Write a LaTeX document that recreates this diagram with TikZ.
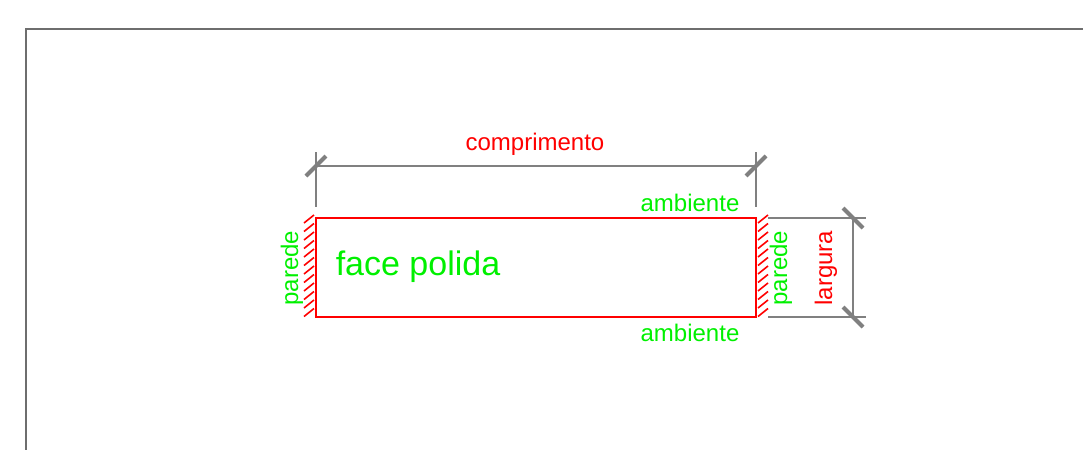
\documentclass[tikz,border=0pt]{standalone}
\usepackage{fontspec}
\setmainfont{Liberation Sans}
\definecolor{verde}{RGB}{0,240,0}
\definecolor{vermelho}{RGB}{255,0,0}
\definecolor{cota}{RGB}{128,128,128}
\definecolor{moldura}{RGB}{110,110,110}

\begin{document}
\begin{tikzpicture}[x=0.5pt,y=-0.5pt,
    cotalinha/.style={cota,line width=1pt},
    marca/.style={cota,line width=2pt},
    hachura/.style={vermelho,line width=0.8pt},
    rotulo/.style={verde,font=\fontsize{12}{14}\selectfont,inner sep=0pt,anchor=base}]
    \useasboundingbox (0,0) rectangle (1083,450);
    \draw[moldura,line width=0.8pt] (26,450)--(26,29)--(1083,29);
    % peca
    \coordinate (A) at (316,218);
    \coordinate (B) at (756,218);
    \coordinate (C) at (756,317);
    \coordinate (D) at (316,317);
    \draw[vermelho,line width=1pt] (A) rectangle (C);
    \foreach \y in {223,231.5,...,323}{
        \draw[hachura] (304,\y)--(314,\y-8);
        \draw[hachura] (758,\y)--(768,\y-8);
      }
    % cotas
    \coordinate (c1) at (316,166);
    \coordinate (c2) at (756,166);
    \coordinate (l1) at (853,218);
    \coordinate (l2) at (853,317);
    \draw[cotalinha] (316,152)--(316,207);
    \draw[cotalinha] (756,152)--(756,207);
    \draw[cotalinha] (768,218)--(866,218);
    \draw[cotalinha] (768,317)--(866,317);
    \draw[cotalinha] (c1)--(c2);
    \draw[cotalinha] (l1)--(l2);
    \foreach \p in {c1,c2}{
        \draw[marca] ([shift={(-10,10)}]\p)--([shift={(10,-10)}]\p);
      }
    \foreach \p in {l1,l2}{
        \draw[marca] ([shift={(-10,-10)}]\p)--([shift={(10,10)}]\p);
      }
    % textos
    \node[rotulo,vermelho] (comp) at (535,150) {comprimento};
    \node[rotulo] (amb1) at (690,211) {ambiente};
    \node[rotulo] (amb2) at (690,341) {ambiente};
    \node[rotulo,font=\fontsize{17}{20}\selectfont] (face) at (418,275) {face polida};
    \node[rotulo,rotate=90] (par1) at (298,268) {parede};
    \node[rotulo,rotate=90] (par2) at (787,268) {parede};
    \node[rotulo,rotate=90,vermelho] (larg) at (832,268) {largura};
  \end{tikzpicture}
\end{document}
